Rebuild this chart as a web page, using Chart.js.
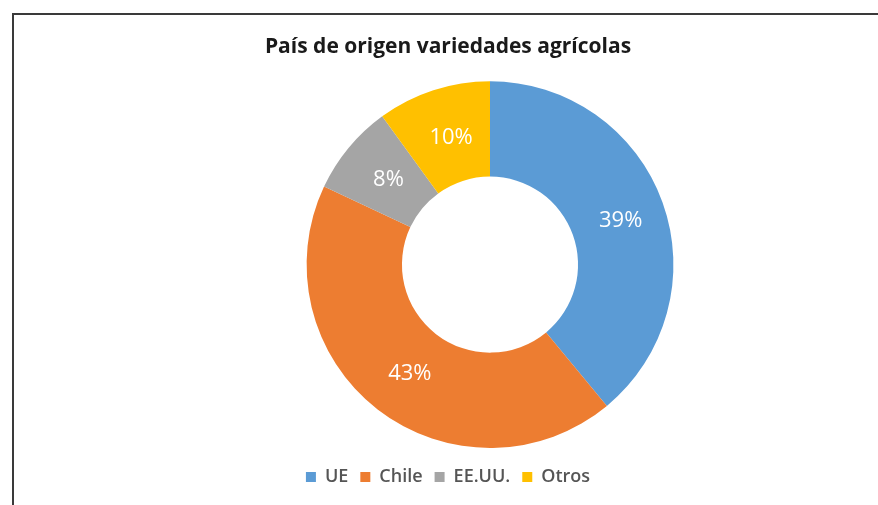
<!DOCTYPE html>
<html>
<head>
<meta charset="utf-8">
<script src="https://cdn.jsdelivr.net/npm/chart.js@4/dist/chart.umd.min.js"></script>
<style>
  html, body { margin: 0; padding: 0; background: #fff; overflow: hidden; }
  #frame {
    position: absolute; left: 12px; top: 13px; width: 878px; height: 505px;
    border-top: 2px solid #3a3a3a; border-left: 2px solid #3a3a3a;
  }
  #wrap { position: absolute; left: 18px; top: 0; width: 860px; height: 505px; }
</style>
</head>
<body>
<div id="frame"></div>
<div id="wrap"><canvas id="chart"></canvas></div>
<script>
const categories = ['UE', 'Chile', 'EE.UU.', 'Otros'];
const shares = [39, 43, 8, 10];
const colors = ['#5B9BD5', '#ED7D31', '#A5A5A5', '#FFC000'];

// shift the doughnut right of the title/legend centre, like the original
const shiftArea = {
  id: 'shiftArea',
  afterLayout(chart) {
    const a = chart.chartArea;
    a.left += 84;
    a.bottom -= 8;
    a.width = a.right - a.left;
    a.height = a.bottom - a.top;
  }
};

// white percentage labels in the middle of each ring segment
const sliceLabels = {
  id: 'sliceLabels',
  afterDatasetsDraw(chart) {
    const ctx = chart.ctx;
    const meta = chart.getDatasetMeta(0);
    ctx.save();
    ctx.fillStyle = '#ffffff';
    ctx.font = '22px "Open Sans", sans-serif';
    ctx.textAlign = 'center';
    ctx.textBaseline = 'middle';
    meta.data.forEach((arc, i) => {
      const p = arc.tooltipPosition();
      ctx.fillText(shares[i] + '%', p.x + 3, p.y + 2);
    });
    ctx.restore();
  }
};

new Chart(document.getElementById('chart'), {
  type: 'doughnut',
  data: {
    labels: categories,
    datasets: [{
      data: shares,
      backgroundColor: colors,
      borderWidth: 0
    }]
  },
  options: {
    responsive: true,
    maintainAspectRatio: false,
    animation: false,
    cutout: '48%',
    layout: { padding: { top: 0, bottom: 9, left: 0, right: 0 } },
    plugins: {
      title: {
        display: true,
        text: 'País de origen variedades agrícolas',
        color: '#1a1a1a',
        font: { family: '"Open Sans", sans-serif', size: 21, weight: 'bold' },
        padding: { top: 34, bottom: 22 }
      },
      legend: {
        position: 'bottom',
        labels: {
          color: '#555555',
          font: { family: '"Open Sans", sans-serif', size: 18, weight: '600' },
          boxWidth: 10,
          boxHeight: 10,
          padding: 12
        }
      },
      tooltip: { enabled: false }
    }
  },
  plugins: [shiftArea, sliceLabels]
});
</script>
</body>
</html>
